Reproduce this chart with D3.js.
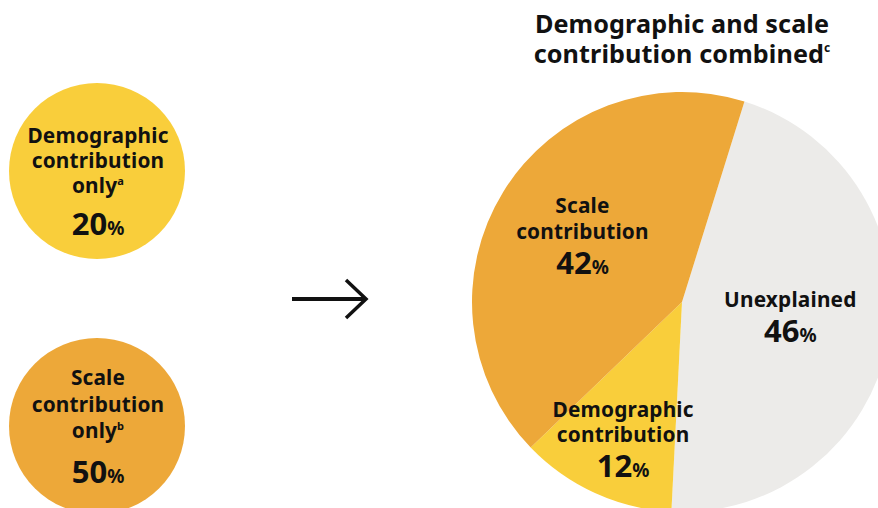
<!DOCTYPE html>
<html>
<head>
<meta charset="utf-8">
<script src="https://cdn.jsdelivr.net/npm/d3@7"></script>
<style>
  html, body { margin: 0; padding: 0; background: #fff; }
  svg { display: block; font-family: "Noto Sans", "Open Sans", sans-serif; font-weight: 700; }
</style>
</head>
<body>
<svg id="chart" width="878" height="508"></svg>
<script>
// Single-effect shares (left bubbles)
const singleLabels = [["Demographic", "contribution", "only"], ["Scale", "contribution", "only"]];
const singleNotes = ["a", "b"];
const singleValues = [20, 50];

// Combined breakdown (pie)
const pieCategories = ["Unexplained", "Demographic contribution", "Scale contribution"];
const pieLines = [["Unexplained"], ["Demographic", "contribution"], ["Scale", "contribution"]];
const pieValues = [46, 12, 42];

const titleLines = ["Demographic and scale", "contribution combined"];
const titleNote = "c";

const colors = {
  "Unexplained": "#ECEBE9",
  "Demographic contribution": "#F9CE3B",
  "Scale contribution": "#EDA839"
};
const bubbleColors = ["#F9CE3B", "#EDA839"];
const ink = "#111";
const labelSize = 20.8;
const ls = 0.2;

const svg = d3.select("#chart");

// ---- left bubbles ----
const bubbleY = d3.scalePoint().domain(d3.range(singleValues.length)).range([171, 426]);
const bubbleR = 88;
const bx = 97;
const bubbleText = [{ top: -28, step: 25, gap: 42 }, { top: -41, step: 26.5, gap: 45 }];

const bubbles = svg.selectAll("g.bubble")
  .data(singleValues.map((v, i) => ({ v, i })))
  .join("g")
  .attr("class", "bubble")
  .attr("transform", d => `translate(${bx},${bubbleY(d.i)})`);

bubbles.append("circle").attr("r", bubbleR).attr("fill", d => bubbleColors[d.i]);

bubbles.each(function (d) {
  const g = d3.select(this);
  const lines = singleLabels[d.i];
  const bt = bubbleText[d.i];
  lines.forEach((ln, k) => {
    const t = g.append("text")
      .attr("text-anchor", "middle")
      .attr("x", 1)
      .attr("y", bt.top + k * bt.step)
      .attr("font-size", labelSize)
      .attr("letter-spacing", ls)
      .attr("fill", ink);
    t.append("tspan").text(ln);
    if (k === lines.length - 1) {
      t.append("tspan").attr("font-size", 11).attr("dy", -8).text(singleNotes[d.i]);
    }
  });
  const vt = g.append("text")
    .attr("text-anchor", "middle")
    .attr("x", 1)
    .attr("y", bt.top + (lines.length - 1) * bt.step + bt.gap)
    .attr("fill", ink);
  vt.append("tspan").attr("font-size", 31).text(d.v);
  vt.append("tspan").attr("font-size", 19).text("%");
});

// ---- arrow ----
const arrow = svg.append("g").attr("stroke", ink).attr("fill", "none").attr("stroke-width", 4);
arrow.append("line").attr("x1", 292).attr("x2", 366).attr("y1", 299).attr("y2", 299);
arrow.append("polyline")
  .attr("points", "346,280 366,299 346,318")
  .attr("stroke-linejoin", "miter")
  .attr("stroke-width", 3.5);

// ---- pie ----
const cx = 682, cy = 302, radius = 210;
const start = 17.3 * Math.PI / 180;
const pie = d3.pie().sort(null).value(d => d.v)
  .startAngle(start).endAngle(start + 2 * Math.PI);
const arcs = pie(pieValues.map((v, i) => ({ v, i, cat: pieCategories[i] })));
const arc = d3.arc().innerRadius(0).outerRadius(radius);

const pg = svg.append("g").attr("transform", `translate(${cx},${cy})`);
pg.selectAll("path")
  .data(arcs)
  .join("path")
  .attr("d", arc)
  .attr("fill", d => colors[d.data.cat]);

// label anchor radius and value baseline offset per slice
const labelLayout = [{ r: 110, dy: 21 }, { r: 142, dy: 46 }, { r: 117, dy: 33 }];

arcs.forEach((a, i) => {
  const lay = labelLayout[i];
  const [lx, ly] = d3.arc().innerRadius(lay.r).outerRadius(lay.r).centroid(a);
  const vy = ly + lay.dy;
  const lines = pieLines[i];
  const g = pg.append("g").attr("fill", ink).attr("text-anchor", "middle");
  lines.forEach((ln, k) => {
    g.append("text")
      .attr("x", lx)
      .attr("y", vy - 35 - (lines.length - 1 - k) * 25.5)
      .attr("font-size", labelSize)
      .attr("letter-spacing", ls)
      .text(ln);
  });
  const vt = g.append("text").attr("x", lx).attr("y", vy);
  vt.append("tspan").attr("font-size", 31).text(a.data.v);
  vt.append("tspan").attr("font-size", 19).text("%");
});

// ---- title ----
const title = svg.append("g").attr("fill", ink).attr("text-anchor", "middle");
titleLines.forEach((ln, k) => {
  const t = title.append("text")
    .attr("x", 682)
    .attr("y", 33 + k * 30)
    .attr("font-size", 25.2)
    .attr("letter-spacing", 0.1);
  t.append("tspan").text(ln);
  if (k === titleLines.length - 1) {
    t.append("tspan").attr("font-size", 12).attr("dy", -11).text(titleNote);
  }
});
</script>
</body>
</html>
